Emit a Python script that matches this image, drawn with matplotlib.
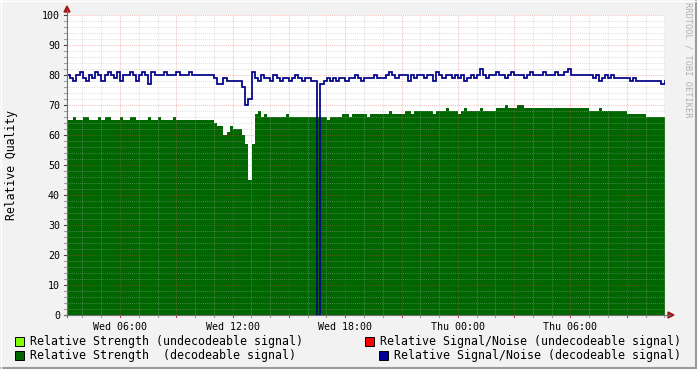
import numpy as np
import matplotlib
matplotlib.use("Agg")
import matplotlib.pyplot as plt
from matplotlib.patches import Polygon, Rectangle
from matplotlib.lines import Line2D

# ---------------- data ----------------
# Relative Strength (decodeable signal), one sample every 10 minutes
green = [65,65,66,65,65,66,66,65,65,65, 66,65,66,66,65,65,65,66,65,65,
         66,66,65,65,65,65,66,65,65,66, 65,65,65,65,66,65,65,65,65,65,
         65,65,65,65,65,65,65,
         64,63,63,60,61,63,62,62,62,60,57,45,57,67,68,
         66,67,66,66,66,66,66,66,67,66, 66,66,66,66,66,66,66,66,66,66,
         66,65,66,66,66,66,
         67,67,66,67,67,67,67,67,66,67, 67,67,67,67,67,68,67,67,67,67,
         68,68,67,68,68,68,68,68,68,67,68,68,
         68,69,68,68,68,67,68,69,68,68,68,68,69,68,68,68,68,
         69,69,69,70,69,69,69,70,70,69, 69,69,69,69,69,69,69,69,69,69,
         69,69,69,69,69,69,69,69,69,69,
         68,68,68,69,68,68,68,68,68,68,68,68,
         67,67,67,67,67,67,
         66,66,66,66,66,66,66]
# Relative Signal/Noise (decodeable signal)
blue = [80,79,78,80,81,79,78,80,79,81, 80,78,80,81,80,79,81,78,80,80,
        81,80,78,80,81,80,77,81,80,80, 80,81,80,80,80,81,80,80,80,81,
        80,80,80,80,80,80,80,
        79,77,77,79,78,78,78,78,78,76,70,72,81,
        79,78,80,79,79,78,80,79,78,79, 79,78,79,80,79,78,79,79,78,78,
        0,
        77,78,79,78,79,78,79,
        79,78,79,79,80,79,78,79,79,79, 80,79,79,79,80,81,80,79,80,80,
        80,78,80,79,80,80,79,80,80,78,81,80,
        79,80,80,79,80,79,80,78,79,80,79,80,82,80,79,80,80,
        81,80,80,79,80,81,80,80,80,79, 80,81,80,80,80,81,80,80,80,81,
        80,80,81,82,80,80,80,80,80,80,
        80,79,80,78,79,80,79,80,79,79,79,79,
        79,78,79,78,78,78,78,78,78,78,78,77,78]

xtick_hours = [6, 12, 18, 24, 30]
xtick_labels = ["Wed 06:00", "Wed 12:00", "Wed 18:00", "Thu 00:00", "Thu 06:00"]
ytick_values = list(range(0, 101, 10))
ytick_labels = [str(v) for v in ytick_values]

legend_items = [
    ("Relative Strength (undecodeable signal)", "#80FF00"),
    ("Relative Strength  (decodeable signal)", "#006600"),
    ("Relative Signal/Noise (undecodeable signal)", "#FF0000"),
    ("Relative Signal/Noise (decodeable signal)", "#000099"),
]

# ---------------- layout ----------------
plt.rcParams['font.family'] = ['DejaVu Sans Mono']
W, H = 697, 369
fig = plt.figure(figsize=(W / 100, H / 100), dpi=100, facecolor="#F2F2F2")

def fx(px):
    return px / W

def fy(py):
    return 1 - py / H

L, R, B, T = 67, 665, 315, 15
ax = fig.add_axes([fx(L), fy(B), (R - L) / W, (B - T) / H])
ax.set_facecolor("white")

px_per_h = 18.77
t0 = 6 - (120 - L) / px_per_h
t1 = t0 + (R - L) / px_per_h
step = 1 / 6
edges = t0 + np.arange(len(green) + 1) * step

ax.set_xlim(t0, t1)
ax.set_ylim(0, 100)

ax.stairs(green, edges, fill=True, color="#006600", linewidth=0, baseline=0, zorder=2)

# grid
minor_c = (0.7, 0.7, 0.7, 0.38)
major_c = (0.9, 0.3, 0.3, 0.35)
dots = (0, (1, 1))
h = int(np.ceil(t0))
while h <= t1:
    c = major_c if h % 3 == 0 else minor_c
    ax.axvline(h, color=c, lw=0.75, ls=dots, zorder=3)
    h += 1
for v in range(2, 101, 2):
    c = major_c if v % 10 == 0 else minor_c
    ax.axhline(v, color=c, lw=0.75, ls=dots, zorder=3)

ax.stairs(blue, edges, baseline=None, color="#000088", lw=1.25, zorder=4)

for s in ax.spines.values():
    s.set_visible(False)
ax.set_xticks(xtick_hours, xtick_labels)
ax.set_yticks(ytick_values, ytick_labels)
ax.tick_params(axis='both', length=0, labelsize=7.2, colors="#000000")
ax.tick_params(axis='x', pad=5)
ax.tick_params(axis='y', pad=5)

# tick marks
xtr = ax.get_xaxis_transform()
ytr = ax.get_yaxis_transform()
h = int(np.ceil(t0))
while h <= t1:
    c = "#C04040" if h % 3 == 0 else "#A0A0A0"
    ax.add_line(Line2D([h, h], [0, -2 / 300], transform=xtr, color=c, lw=0.8, clip_on=False, zorder=5))
    h += 1
for v in range(0, 101, 2):
    c = "#404040" if v % 10 == 0 else "#A0A0A0"
    ax.add_line(Line2D([-3 / 598, 0], [v, v], transform=ytr, color=c, lw=0.8, clip_on=False, zorder=5))

# axes lines + arrows (figure pixel coords)
axc = "#707070"
fig.add_artist(Line2D([fx(L), fx(L)], [fy(B + 2), fy(10)], color=axc, lw=0.8))
fig.add_artist(Line2D([fx(L - 3), fx(670)], [fy(B), fy(B)], color=axc, lw=0.8))
arrow_c = "#A01818"
fig.add_artist(Polygon([[fx(L - 3), fy(12)], [fx(L + 3), fy(12)], [fx(L), fy(6)]],
                       closed=True, color=arrow_c, transform=fig.transFigure))
fig.add_artist(Polygon([[fx(668), fy(B - 3)], [fx(668), fy(B + 3)], [fx(674), fy(B)]],
                       closed=True, color=arrow_c, transform=fig.transFigure))

# labels
fig.text(fx(12), fy(165), "Relative Quality", rotation=90, ha="center", va="center", fontsize=8.3)
fig.text(fx(688), fy(60), "RRDTOOL / TOBI OETIKER", rotation=270, ha="center", va="center",
         fontsize=6.2, color="#B0B0B0")

# legend
legend_pos = [(15, 30, 341), (15, 30, 355), (365, 380, 341), (379, 394, 355)]
for (label, col), (bx, tx, cy) in zip(legend_items, legend_pos):
    fig.add_artist(Rectangle((fx(bx), fy(cy + 4.5)), 9 / W, 9 / H, facecolor=col,
                             edgecolor="black", lw=0.7, transform=fig.transFigure))
    fig.text(fx(tx), fy(cy), label, ha="left", va="center", fontsize=8.36)

# border
fig.add_artist(Line2D([0, 1], [fy(368), fy(368)], color="#9A9A9A", lw=1.5))
fig.add_artist(Line2D([fx(696), fx(696)], [0, 1], color="#9A9A9A", lw=1.5))
fig.add_artist(Line2D([0, 1], [fy(0.5), fy(0.5)], color="#FFFFFF", lw=1))
fig.add_artist(Line2D([fx(0.5), fx(0.5)], [0, 1], color="#FFFFFF", lw=1))

fig.savefig("out.png", dpi=100, facecolor=fig.get_facecolor())
